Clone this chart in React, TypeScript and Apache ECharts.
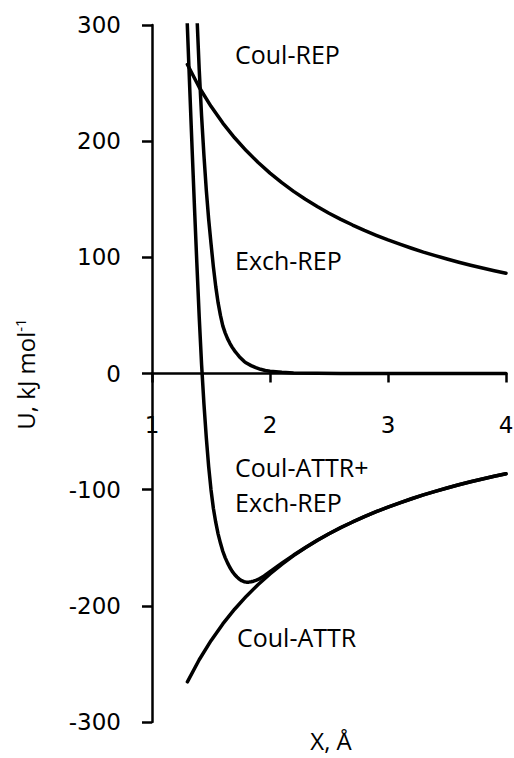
import React, { useEffect, useRef } from "react";
import * as echarts from "echarts";

// Axis ticks
const xTicks = [1, 2, 3, 4];
const yTicks = [-300, -200, -100, 0, 100, 200, 300];

// Coulomb repulsion / attraction
const coulX = [1.3, 1.4, 1.5, 1.6, 1.7, 1.8, 1.9, 2.0, 2.1, 2.2, 2.3, 2.4, 2.5, 2.6, 2.7, 2.8, 2.9, 3.0, 3.1, 3.2, 3.3, 3.4, 3.5, 3.6, 3.7, 3.8, 3.9, 4.0];
const coulRepY = [266, 246.4, 230, 215.6, 202.9, 191.7, 181.6, 172.5, 164.3, 156.8, 150, 143.8, 138, 132.7, 127.8, 123.2, 119, 115, 111.3, 107.8, 104.5, 101.5, 98.6, 95.8, 93.2, 90.8, 88.5, 86.3];
const coulAttrY = [-265.4, -246.4, -230, -215.6, -202.9, -191.7, -181.6, -172.5, -164.3, -156.8, -150, -143.8, -138, -132.7, -127.8, -123.2, -119, -115, -111.3, -107.8, -104.5, -101.5, -98.6, -95.8, -93.2, -90.8, -88.5, -86.3];

// Exchange repulsion
const exchX = [1.38, 1.4, 1.42, 1.44, 1.46, 1.48, 1.5, 1.52, 1.54, 1.56, 1.58, 1.6, 1.62, 1.64, 1.66, 1.68, 1.7, 1.72, 1.74, 1.76, 1.78, 1.8, 1.84, 1.88, 1.92, 1.96, 2.0, 2.1, 2.2, 2.4, 2.6, 3.0, 4.0];
const exchY = [310, 262, 222, 188, 158, 133, 112, 92, 75, 61, 50, 41, 35, 30, 26, 22.5, 19.5, 17, 14.5, 12.5, 10.5, 9, 6.8, 5, 3.6, 2.6, 1.9, 1, 0.5, 0.15, 0.05, 0, 0];

// Coul-ATTR + Exch-REP
const sumX = [1.28, 1.3, 1.32, 1.34, 1.36, 1.38, 1.4, 1.42, 1.44, 1.46, 1.48, 1.5, 1.52, 1.54, 1.56, 1.58, 1.6, 1.62, 1.64, 1.66, 1.68, 1.7, 1.72, 1.74, 1.76, 1.78, 1.8, 1.82, 1.84, 1.86, 1.88, 1.9, 1.95, 2.0, 2.1, 2.2, 2.3, 2.4, 2.5, 2.6, 2.7, 2.8, 2.9, 3.0, 3.1, 3.2, 3.3, 3.4, 3.5, 3.6, 3.7, 3.8, 3.9, 4.0];
const sumY = [352, 298, 245, 193, 143, 95, 49, 8, -26, -55, -80, -100, -116, -128, -138, -146, -153, -158.5, -163, -167, -170.3, -173, -175.2, -177, -178.4, -179.2, -179.6, -179.6, -179.3, -178.8, -178.1, -177.3, -174.3, -170.6, -163.3, -156.3, -149.8, -143.6, -137.9, -132.6, -127.8, -123.2, -119, -115, -111.3, -107.8, -104.5, -101.5, -98.6, -95.8, -93.2, -90.8, -88.5, -86.3];

const FONT = "'Open Sans', 'Noto Sans', sans-serif";
const TICK_FONT = "'DejaVu Sans', sans-serif";

const pairs = (xs: number[], ys: number[]) => xs.map((x, i) => [x, ys[i]]);

export default function App() {
  const ref = useRef<HTMLDivElement>(null);
  useEffect(() => {
    if (!ref.current) return;
    const chart = echarts.init(ref.current, null, { renderer: "svg" });
    const line = (name: string, data: number[][]) => ({
      name,
      type: "line",
      data,
      showSymbol: false,
      symbol: "none",
      smooth: false,
      clip: true,
      lineStyle: { color: "#000", width: 3.5, join: "round", cap: "round" },
    });
    const label = (text: string, x: number, y: number) => ({
      type: "text",
      left: x,
      top: y,
      style: { text, fontSize: 25, fontFamily: FONT, fill: "#000" },
    });
    const gridTop = 25;
    const gridBottom = 36;
    const plotH = 758 - gridTop - gridBottom;
    const zeroFromBottom = plotH * (0 - yTicks[0]) / (yTicks[yTicks.length - 1] - yTicks[0]);
    chart.setOption({
      animation: false,
      backgroundColor: "#fff",
      grid: { left: 152, right: 8, top: gridTop, bottom: gridBottom, outerBoundsMode: "none", containLabel: false },
      xAxis: {
        type: "value",
        z: 3,
        min: xTicks[0],
        max: xTicks[xTicks.length - 1],
        interval: 1,
        offset: -zeroFromBottom,
        axisLine: { onZero: false, lineStyle: { color: "#000", width: 2.5 } },
        axisTick: { show: true, length: 9, lineStyle: { color: "#000", width: 2.5 } },
        axisLabel: { margin: 40, fontSize: 23, fontFamily: TICK_FONT, color: "#000" },
        splitLine: { show: false },
      },
      yAxis: {
        type: "value",
        z: 1,
        min: yTicks[0],
        max: yTicks[yTicks.length - 1],
        interval: 100,
        axisLine: { show: true, onZero: false, lineStyle: { color: "#000", width: 2.5 } },
        axisTick: { show: true, length: 10, lineStyle: { color: "#000", width: 2.5 } },
        axisLabel: { margin: 31, fontSize: 23, fontFamily: TICK_FONT, color: "#000" },
        splitLine: { show: false },
      },
      series: [
        line("Coul-REP", pairs(coulX, coulRepY)),
        line("Coul-ATTR", pairs(coulX, coulAttrY)),
        line("Exch-REP", pairs(exchX, exchY)),
        line("Coul-ATTR+Exch-REP", pairs(sumX, sumY)),
      ],
      graphic: [
        label("Coul-REP", 235, 41),
        label("Exch-REP", 235, 247),
        label("Coul-ATTR+", 235, 454),
        label("Exch-REP", 235, 489),
        label("Coul-ATTR", 237, 624),
        {
          type: "text",
          x: 331,
          y: 740,
          style: { text: "X, Å", fontSize: 24, fontFamily: FONT, fill: "#000", align: "center", verticalAlign: "middle" },
        },
        {
          type: "text",
          x: 25,
          y: 374,
          rotation: Math.PI / 2,
          style: {
            text: "{a|U, kJ mol}{s|-1}",
            align: "center",
            verticalAlign: "middle",
            rich: {
              a: { fontSize: 24, fontFamily: FONT, fill: "#000" },
              s: { fontSize: 15, fontFamily: FONT, fill: "#000", verticalAlign: "top", padding: [0, 0, 10, 0] },
            },
          },
        },
      ],
    });
    return () => chart.dispose();
  }, []);
  return <div ref={ref} style={{ position: "fixed", left: 0, top: 0, width: 514, height: 758 }} />;
}
